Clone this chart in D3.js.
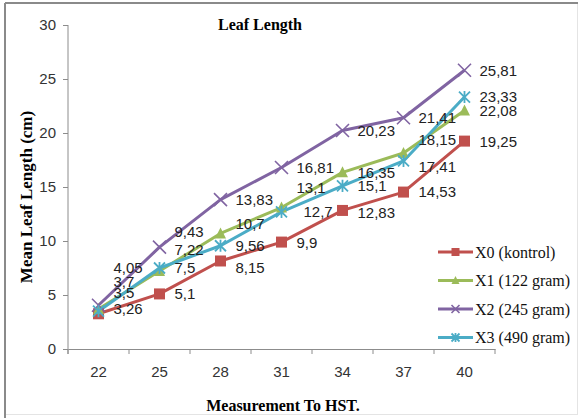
<!DOCTYPE html>
<html>
<head>
<meta charset="utf-8">
<script src="https://cdn.jsdelivr.net/npm/d3@7"></script>
<style>
  body { margin: 0; background: #fff; }
  svg { display: block; }
</style>
</head>
<body>
<div id="chart"></div>
<script>
// days after planting (HST)
const days = ["22", "25", "28", "31", "34", "37", "40"];
const yTicks = [0, 5, 10, 15, 20, 25, 30];

const seriesNames = ["X0 (kontrol)", "X1 (122 gram)", "X2 (245 gram)", "X3 (490 gram)"];
const x0Values = [3.26, 5.1, 8.15, 9.9, 12.83, 14.53, 19.25];
const x1Values = [3.7, 7.22, 10.7, 13.1, 16.35, 18.15, 22.08];
const x2Values = [4.05, 9.43, 13.83, 16.81, 20.23, 21.41, 25.81];
const x3Values = [3.5, 7.5, 9.56, 12.7, 15.1, 17.41, 23.33];

const colors = ["#c0504d", "#9bbb59", "#8064a2", "#4bacc6"];
const markers = ["square", "triangle", "cross", "star"];

// vertical nudges for the data labels so they don't sit on top of each other
const labelNudge = [
  [-5, 0, 7, 1, 2, 0, 1],
  [-27, -21, -10, -20, 0, -13, 0],
  [-38, -15, 0, 0, 0, 0, 0],
  [-18, 0, 0, 0, 0, 6, 0],
];
// extra horizontal shift (only one label needs it)
const labelShift = [
  [0, 0, 0, 0, 0, 0, 0],
  [0, 0, 0, 0, 0, 0, 0],
  [0, 0, 0, 0, 0, 0, 0],
  [0, 0, 0, 7, 0, 0, 0],
];

const series = seriesNames.map((name, i) => ({
  name: name,
  color: colors[i],
  marker: markers[i],
  values: [x0Values, x1Values, x2Values, x3Values][i],
  nudge: labelNudge[i],
  shift: labelShift[i],
}));

const config = {
  width: 579,
  height: 418,
  margin: { top: 25, right: 84, bottom: 69, left: 68 },
};

const svg = d3
  .select("#chart")
  .append("svg")
  .attr("width", config.width)
  .attr("height", config.height);

// chart border
svg.append("rect")
  .attr("x", 5.5).attr("y", 3.5)
  .attr("width", 572).attr("height", 411)
  .attr("fill", "none")
  .attr("stroke", "#e4e4e4");
svg.append("line")
  .attr("x1", 5).attr("x2", 578).attr("y1", 3).attr("y2", 3)
  .attr("stroke", "#8a8a8a").attr("stroke-width", 2);
svg.append("line")
  .attr("x1", 5).attr("x2", 5).attr("y1", 3).attr("y2", 418)
  .attr("stroke", "#8a8a8a").attr("stroke-width", 2);

const innerLeft = config.margin.left;
const innerRight = config.width - config.margin.right;
const innerTop = config.margin.top;
const innerBottom = config.height - config.margin.bottom;

const x = d3.scaleBand().domain(days).range([innerLeft, innerRight]);
const y = d3.scaleLinear().domain([0, 30]).range([innerBottom, innerTop]);
const cx = (d) => x(d) + x.bandwidth() / 2;

const axisColor = "#8c8c8c";

// y axis
const yAxis = svg.append("g")
  .attr("transform", `translate(${innerLeft},0)`)
  .call(d3.axisLeft(y).tickValues(yTicks).tickSize(5).tickPadding(7));
// x axis (ticks at category boundaries)
const xAxis = svg.append("g")
  .attr("transform", `translate(0,${innerBottom})`)
  .call(d3.axisBottom(x).tickSize(0).tickPadding(17));
xAxis.selectAll(".bound")
  .data(days.concat(["end"]))
  .join("line")
  .attr("class", "bound")
  .attr("x1", (d, i) => (i < days.length ? x(d) : innerRight))
  .attr("x2", (d, i) => (i < days.length ? x(d) : innerRight))
  .attr("y1", 0).attr("y2", 5)
  .attr("stroke", axisColor);

[yAxis, xAxis].forEach((g) => {
  g.select(".domain").attr("stroke", axisColor);
  g.selectAll(".tick line").attr("stroke", axisColor);
  g.selectAll(".tick text")
    .attr("fill", "#333")
    .style("font-family", "'Liberation Sans', Arial, sans-serif")
    .style("font-size", "15px");
});
yAxis.select(".domain").attr("d", `M-0,${innerTop}V${innerBottom + 5}`);

// lines
const line = d3.line().x((d) => cx(d.day)).y((d) => y(d.value));
const rows = (s) => s.values.map((v, i) => ({ day: days[i], value: v }));

svg.selectAll(".series-line")
  .data(series)
  .join("path")
  .attr("class", "series-line")
  .attr("d", (s) => line(rows(s)))
  .attr("fill", "none")
  .attr("stroke", (s) => s.color)
  .attr("stroke-width", 3)
  .attr("stroke-linejoin", "round");

function drawMarker(g, type, color, size) {
  const h = size / 2;
  if (type === "square") {
    g.append("rect")
      .attr("x", -h).attr("y", -h)
      .attr("width", size).attr("height", size)
      .attr("fill", color);
  } else if (type === "triangle") {
    g.append("path")
      .attr("d", `M0,${-h * 1.1}L${h},${h * 0.9}L${-h},${h * 0.9}Z`)
      .attr("fill", color);
  } else if (type === "cross") {
    g.append("path")
      .attr("d", `M${-h},${-h}L${h},${h}M${-h},${h}L${h},${-h}`)
      .attr("stroke", color).attr("stroke-width", 1.6);
  } else {
    g.append("path")
      .attr("d", `M${-h},${-h}L${h},${h}M${-h},${h}L${h},${-h}M0,${-h * 1.1}V${h * 1.1}`)
      .attr("stroke", color).attr("stroke-width", 1.8);
  }
}

// markers
series.forEach((s) => {
  rows(s).forEach((d) => {
    const g = svg.append("g")
      .attr("transform", `translate(${cx(d.day)},${y(d.value)})`);
    drawMarker(g, s.marker, s.color, s.marker === "cross" ? 13 : 11);
  });
});

// data labels
series.forEach((s) => {
  svg.selectAll(`.lbl-${s.marker}`)
    .data(rows(s))
    .join("text")
    .attr("x", (d, i) => cx(d.day) + 15 + s.shift[i])
    .attr("y", (d, i) => y(d.value) + s.nudge[i])
    .attr("dy", "0.35em")
    .attr("fill", "#222")
    .style("font-family", "'Liberation Sans', Arial, sans-serif")
    .style("font-size", "15px")
    .text((d) => String(d.value).replace(".", ","));
});

// titles
const serif = "'Liberation Serif', 'Times New Roman', serif";
svg.append("text")
  .attr("x", 260).attr("y", 24).attr("dy", "0.35em")
  .attr("text-anchor", "middle")
  .style("font-family", serif).style("font-weight", "bold").style("font-size", "16px")
  .text("Leaf Length");

svg.append("text")
  .attr("transform", "translate(26,197) rotate(-90)")
  .attr("dy", "0.35em")
  .attr("text-anchor", "middle")
  .style("font-family", serif).style("font-weight", "bold").style("font-size", "17px")
  .text("Mean Leaf Length (cm)");

svg.append("text")
  .attr("x", 283).attr("y", 405).attr("dy", "0.35em")
  .attr("text-anchor", "middle")
  .style("font-family", serif).style("font-weight", "bold").style("font-size", "16px")
  .text("Measurement To HST.");

// legend
const legend = svg.selectAll(".legend-item")
  .data(series)
  .join("g")
  .attr("class", "legend-item")
  .attr("transform", (d, i) => `translate(438,${252 + i * 28.5})`);

legend.append("line")
  .attr("x1", 0).attr("x2", 35)
  .attr("stroke", (d) => d.color)
  .attr("stroke-width", 3);

legend.each(function (d) {
  const g = d3.select(this).append("g").attr("transform", "translate(17.5,0)");
  drawMarker(g, d.marker, d.color, 8);
});

legend.append("text")
  .attr("x", 37).attr("dy", "0.35em")
  .attr("fill", "#111")
  .style("font-family", serif)
  .style("font-size", "16px")
  .text((d) => d.name);
</script>
</body>
</html>
